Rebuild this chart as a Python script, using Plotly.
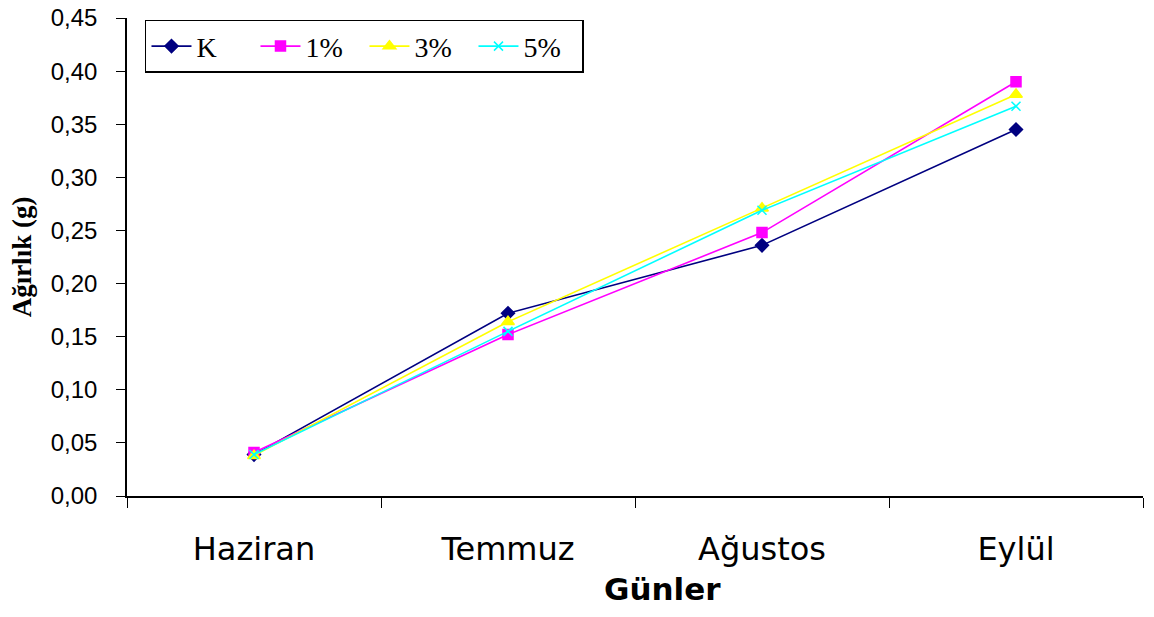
import plotly.graph_objects as go

months = ["Haziran", "Temmuz", "Ağustos", "Eylül"]
series_names = ["K", "1%", "3%", "5%"]
k_vals = [0.039, 0.172, 0.236, 0.345]
p1_vals = [0.041, 0.152, 0.248, 0.390]
p3_vals = [0.038, 0.164, 0.271, 0.378]
p5_vals = [0.039, 0.155, 0.269, 0.367]

colors = ["#000080", "#FF00FF", "#FFFF00", "#00FFFF"]
symbols = ["diamond", "square", "triangle-up", "x-thin-open"]
sizes = [10, 10, 11, 9]

fig = go.Figure()
for name, vals, c, s, sz in zip(series_names, [k_vals, p1_vals, p3_vals, p5_vals], colors, symbols, sizes):
    fig.add_trace(go.Scatter(
        x=months, y=vals, name=name, mode="lines+markers",
        line=dict(color=c, width=1.6),
        marker=dict(symbol=s, size=sz, color=c, line=dict(color=c, width=1.5)),
    ))

fig.update_layout(
    width=1154, height=617,
    margin=dict(l=127, r=11, t=18, b=121, autoexpand=False),
    paper_bgcolor="white", plot_bgcolor="white",
    separators=",.",
    showlegend=True,
    legend=dict(
        orientation="h", x=0.0177, y=0.996, xanchor="left", yanchor="top",
        bordercolor="black", borderwidth=1.5, bgcolor="white",
        font=dict(family="Liberation Serif", size=28, color="black"),
        entrywidth=54, entrywidthmode="pixels",
        itemwidth=40,
    ),
    xaxis=dict(
        type="category", range=[-0.5, 3.5], automargin=False,
        showline=True, linecolor="black", linewidth=1.5,
        ticks="outside", tickson="boundaries", ticklen=10, tickcolor="black", tickwidth=1.2,
        showgrid=False, zeroline=False,
        tickfont=dict(family="DejaVu Sans", size=32, color="black"),
        ticklabelstandoff=24,
    ),
    yaxis=dict(
        range=[0, 0.45], dtick=0.05, tickformat=".2f", automargin=False,
        showline=True, linecolor="black", linewidth=1.5,
        ticks="outside", ticklen=9, tickcolor="black", tickwidth=1.2,
        showgrid=False, zeroline=False,
        tickfont=dict(family="Liberation Sans", size=24, color="black"),
        ticklabelstandoff=14,
        title=dict(text="Ağırlık (g)", font=dict(family="Liberation Serif", size=27, color="black", weight="bold"), standoff=11),
    ),
    annotations=[dict(
        text="Günler", xref="paper", yref="paper", x=0.527, y=-0.195,
        xanchor="center", yanchor="middle", showarrow=False,
        font=dict(family="DejaVu Sans", size=31, color="black", weight="bold"),
    )],
)

fig.write_html("out.html", config={"displayModeBar": False},
               post_script="document.body.style.margin='0';")
